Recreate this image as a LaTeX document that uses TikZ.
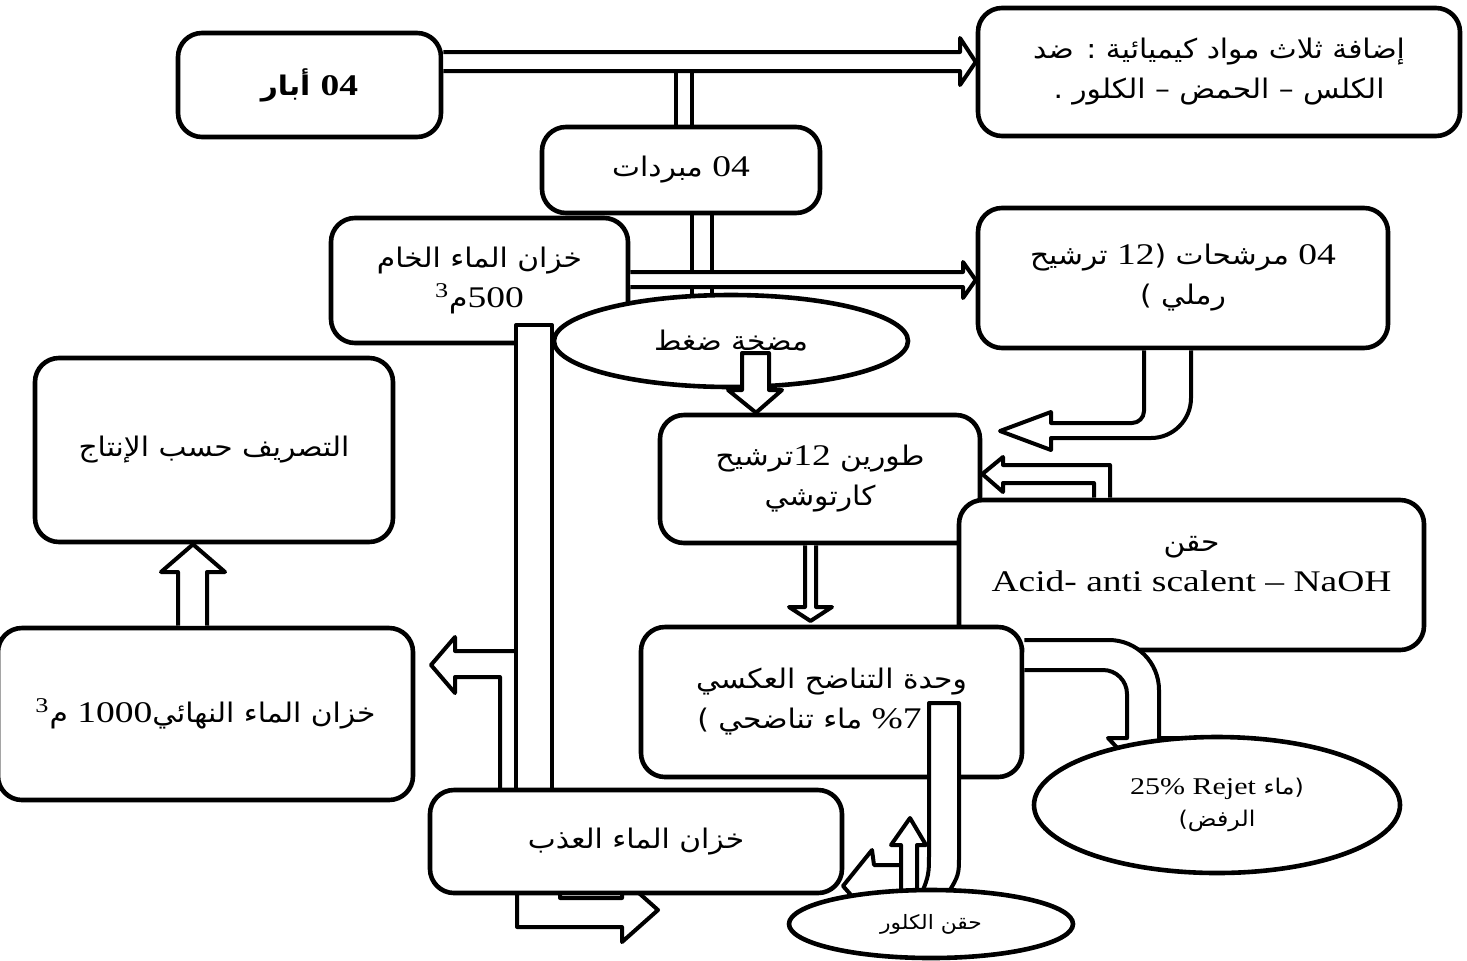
\documentclass[tikz,border=0pt]{standalone}
\usepackage{fontspec}
\setmainfont[FakeStretch=1.25]{Liberation Serif}
\newfontfamily\arfont[Script=Arabic,Scale=0.9,FakeStretch=1.1]{DejaVu Sans}
\TeXXeTstate=1
\usetikzlibrary{shapes.geometric}

\newcommand{\arline}[1]{{\arfont\beginR #1\endR}}
\newcommand{\numtxt}[1]{{\rmfamily\beginL #1\endL}}

\begin{document}
\begin{tikzpicture}[x=0.5pt, y=-0.5pt,
  every node/.style={font=\fontsize{15}{20}\selectfont},
  box/.style={draw, line width=2.3pt, rounded corners=12pt, fill=white, align=center, inner sep=2pt},
  blob/.style={draw, ellipse, line width=2.3pt, fill=white, align=center, inner sep=0pt},
  pipe/.style={draw, line width=2pt, fill=white, line join=round}
]
\useasboundingbox (0,0) rectangle (1467,960);

% -------- top row --------
\node[box, minimum width=131.5pt, minimum height=52pt] (wells) at (309.5,85)
  {\bfseries\arline{\numtxt{04} أبار}};
\node[box, minimum width=241pt, minimum height=64pt] (chem) at (1219,72)
  {\arline{إضافة ثلاث مواد كيميائية : ضد}\\ \arline{الكلس – الحمض – الكلور .}};
\node[box, minimum width=139pt, minimum height=43pt] (coolers) at (681,170)
  {\arline{\numtxt{04} مبردات}};
\node[box, minimum width=148.5pt, minimum height=62.5pt] (raw) at (479.5,280.5)
  {\arline{خزان الماء الخام}\\ \arline{\numtxt{500}م\textsuperscript{\numtxt{3}}}};
\node[box, minimum width=205pt, minimum height=70pt] (filters) at (1183,278)
  {\arline{\numtxt{04} مرشحات (\numtxt{12} ترشيح}\\ \arline{رملي )}};

\draw[pipe] (wells.east |- 0,52) -- (960,52) -- (960,38) -- (chem.west |- 0,62)
  -- (960,85) -- (960,71) -- (wells.east |- 0,71);
\draw[line width=2pt] (676,71) -- (676,0 |- coolers.north) (692,71) -- (692,0 |- coolers.north);
\draw[line width=2pt] (692,0 |- coolers.south) -- (692,300) (712,0 |- coolers.south) -- (712,300);
\draw[pipe] (raw.east |- 0,272) -- (963,272) -- (963,262) -- (filters.west |- 0,280)
  -- (963,298) -- (963,287) -- (raw.east |- 0,287);

% -------- pump and cartridges --------
\node[blob, minimum width=177pt, minimum height=46pt] (pump) at (731,341) {\arline{مضخة ضغط}};
\node[box, minimum width=160pt, minimum height=64pt] (cartridge) at (820,479)
  {\arline{طورين \numtxt{12}ترشيح}\\ \arline{كارتوشي}};
\node[box, minimum width=232.5pt, minimum height=75pt] (injection) at (1191.5,575) {};
\node[align=center] (injtext) at (1191.5,564) {\arline{حقن}\\ Acid- anti scalent – NaOH};

\draw[pipe] (742,353) -- (742,390) -- (728,390) -- (756,0 |- cartridge.north)
  -- (782,390) -- (769,390) -- (769,353) -- cycle;
\draw[pipe] (1144,0 |- filters.south) [rounded corners=6pt] -- (1144,423) [sharp corners]
  -- (1051,423) -- (1051,412) -- (1000,431) -- (1051,450) -- (1051,438)
  [rounded corners=20pt] -- (1191,438) [sharp corners] -- (1191,0 |- filters.south);
\draw[pipe] (1094,0 |- injection.north) -- (1094,483) -- (1003,483) -- (1003,492)
  -- (cartridge.east |- 0,474) -- (1003,457) -- (1003,465) -- (1110,465) -- (1110,0 |- injection.north);

\node[box, minimum width=190.5pt, minimum height=75pt] (ro) at (831.5,702)
  {\arline{وحدة التناضح العكسي}\\ \arline{\hspace*{22pt}\numtxt{\%7} ماء تناضحي )}};
\draw[pipe] (805,0 |- cartridge.south) -- (805,607) -- (789,607) -- (810.5,621)
  -- (832,607) -- (816,607) -- (816,0 |- cartridge.south);

% -------- left side --------
\node[box, minimum width=179pt, minimum height=92pt] (discharge) at (214,450)
  {\arline{التصريف حسب الإنتاج}};
\node[box, minimum width=207.5pt, minimum height=86pt] (final) at (205.5,714)
  {\arline{خزان الماء النهائي\numtxt{1000} م\textsuperscript{\numtxt{3}}}};
\draw[pipe] (178,0 |- final.north) -- (178,572) -- (161,572) -- (193,0 |- discharge.south)
  -- (225,572) -- (207,572) -- (207,0 |- final.north);
\draw[pipe] (500,790) -- (500,677) -- (455,677) -- (455,693) -- (431,665)
  -- (455,637) -- (455,651) -- (517,651);
\draw[pipe] (516,790) -- (516,325) -- (552,325) -- (552,790);

% -------- bottom --------
\draw[pipe] (517,880) -- (517,927) -- (622,927) -- (622,942) -- (658,910)
  -- (622,878) -- (622,898) -- (560,898) -- (560,880) -- cycle;
\node[box, minimum width=206pt, minimum height=51.5pt] (fresh) at (636,841.5)
  {\arline{خزان الماء العذب}};

\draw[pipe] (ro.east |- 0,640) [rounded corners=25pt] -- (1159,640) [sharp corners]
  -- (1159,738) -- (1178,738) -- (1143,775) -- (1108,738) -- (1127,738)
  [rounded corners=12pt] -- (1127,670) [sharp corners] -- (ro.east |- 0,670);
\node[blob, minimum width=183pt, minimum height=68pt, font=\fontsize{12}{16}\selectfont] (rejet) at (1217,805)
  {\arline{(ماء \numtxt{Rejet} \numtxt{25\%}}\\ \arline{الرفض)}};

\draw[pipe] (921,895) .. controls (929,875) .. (929,850) -- (929,703) -- (959,703)
  -- (959,855) .. controls (959,875) .. (947,895);
\draw[pipe] (901,865) -- (874,865) -- (872,850) -- (843,886) -- (860,905) -- (901,905) -- cycle;
\draw[pipe] (901,900) -- (901,845) -- (891,845) -- (910,818) -- (926,845) -- (917,845) -- (917,900);
\node[blob, minimum width=142pt, minimum height=34pt, font=\fontsize{11}{13}\selectfont] (chlorine) at (931,924)
  {\arline{حقن الكلور}};
\end{tikzpicture}
\end{document}
